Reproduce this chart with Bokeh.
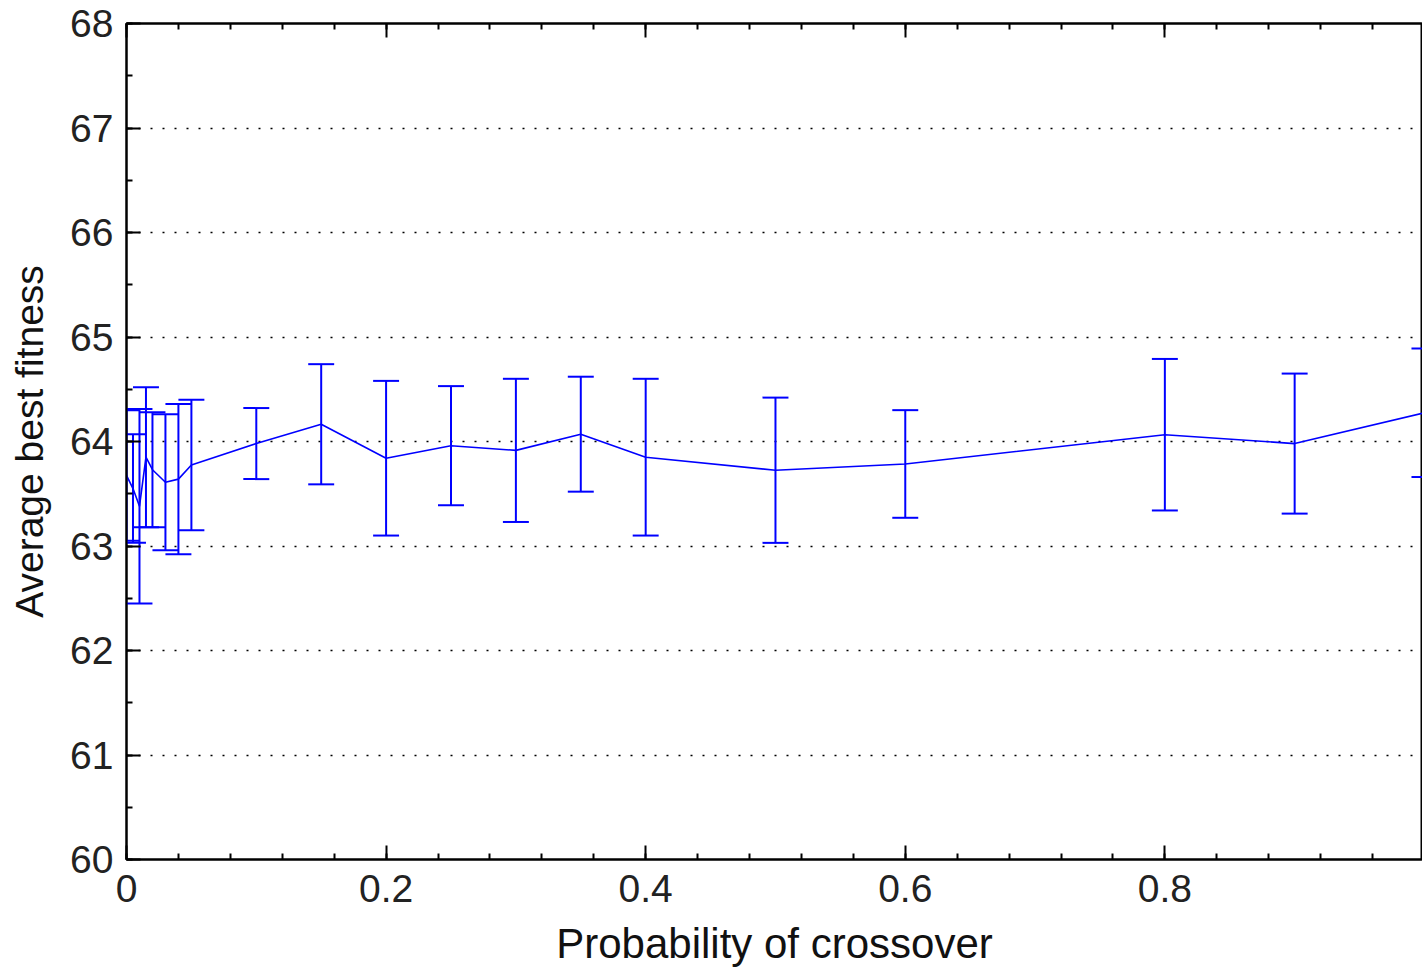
import numpy as np
from bokeh.plotting import figure
from bokeh.models import FixedTicker, LinearAxis, Range1d, ColumnDataSource
from bokeh.embed import file_html
from bokeh.resources import INLINE

# probability of crossover
x_vals = [0.0, 0.005, 0.01, 0.015, 0.02, 0.03, 0.04, 0.05,
          0.1, 0.15, 0.2, 0.25, 0.3, 0.35, 0.4, 0.5, 0.6, 0.8, 0.9, 1.0]
# average best fitness (mean)
mean_vals = [63.675, 63.55, 63.38, 63.85, 63.73, 63.61, 63.64, 63.775,
             63.98, 64.165, 63.84, 63.96, 63.915, 64.07, 63.85, 63.725, 63.785, 64.065, 63.98, 64.275]
# half error bar (std)
err_vals = [0.625, 0.52, 0.93, 0.67, 0.55, 0.65, 0.72, 0.625,
            0.34, 0.575, 0.74, 0.57, 0.685, 0.55, 0.75, 0.695, 0.515, 0.725, 0.67, 0.615]

x_major = [0, 0.2, 0.4, 0.6, 0.8, 1.0]
x_minor = [round(0.04 * i, 2) for i in range(26)]
y_major = [60, 61, 62, 63, 64, 65, 66, 67, 68]
y_minor = [60 + 0.5 * i for i in range(17)]

CAP = 0.01  # half width of error bar caps in data units

x = np.array(x_vals)
m = np.array(mean_vals)
e = np.array(err_vals)
src = ColumnDataSource(dict(x=x, m=m, lo=m - e, hi=m + e,
                            cl=x - CAP, cr=x + CAP))

FONT = "Liberation Sans"
BLUE = "#0000ff"

p = figure(width=1422, height=969, output_backend="svg", toolbar_location=None,
           x_range=Range1d(0, 0.9985), y_range=Range1d(60, 68),
           min_border_left=126, min_border_top=23, min_border_bottom=108,
           min_border_right=0)
p.background_fill_color = "white"
p.border_fill_color = "white"
p.outline_line_color = "black"
p.outline_line_width = 2

p.xgrid.visible = False
p.ygrid.ticker = FixedTicker(ticks=[61, 62, 63, 64, 65, 66, 67])
p.ygrid.grid_line_color = "black"
p.ygrid.grid_line_dash = "2 10"
p.ygrid.grid_line_width = 1.5

xa = p.xaxis[0]
ya = p.yaxis[0]
xa.ticker = FixedTicker(ticks=x_major, minor_ticks=x_minor)
ya.ticker = FixedTicker(ticks=y_major, minor_ticks=y_minor)
xa.major_label_overrides = {0: "0", 0.2: "0.2", 0.4: "0.4", 0.6: "0.6", 0.8: "0.8", 1.0: "1"}
for ax in (xa, ya):
    ax.axis_line_color = "black"
    ax.axis_line_width = 2
    ax.major_tick_in = 14
    ax.major_tick_out = 0
    ax.minor_tick_in = 6
    ax.minor_tick_out = 0
    ax.major_tick_line_color = "black"
    ax.major_tick_line_width = 2
    ax.minor_tick_line_color = "black"
    ax.minor_tick_line_width = 2
    ax.major_label_text_font = FONT
    ax.major_label_text_font_size = "39px"
    ax.major_label_text_color = "#222222"
    ax.axis_label_text_font = FONT
    ax.axis_label_text_font_style = "normal"
    ax.axis_label_text_color = "#111111"
xa.axis_label = "Probability of crossover"
ya.axis_label = "Average best fitness"
xa.axis_label_text_font_size = "42px"
ya.axis_label_text_font_size = "39px"
xa.major_label_standoff = 15
ya.major_label_standoff = 13
xa.axis_label_standoff = 15
ya.axis_label_standoff = 16

# mirrored ticks on top (no labels)
top = LinearAxis(ticker=FixedTicker(ticks=x_major, minor_ticks=x_minor),
                 major_label_text_color=None, major_label_text_font_size="1px",
                 major_label_standoff=0,
                 major_tick_in=14, major_tick_out=0, minor_tick_in=6, minor_tick_out=0,
                 major_tick_line_width=2, minor_tick_line_width=2,
                 axis_line_width=2)
p.add_layout(top, "above")

p.line(x="x", y="m", source=src, line_color=BLUE, line_width=1.6)
p.segment(x0="x", y0="lo", x1="x", y1="hi", source=src, line_color=BLUE, line_width=2)
p.segment(x0="cl", y0="hi", x1="cr", y1="hi", source=src, line_color=BLUE, line_width=2)
p.segment(x0="cl", y0="lo", x1="cr", y1="lo", source=src, line_color=BLUE, line_width=2)

open("out.html", "w").write(file_html(p, INLINE))
